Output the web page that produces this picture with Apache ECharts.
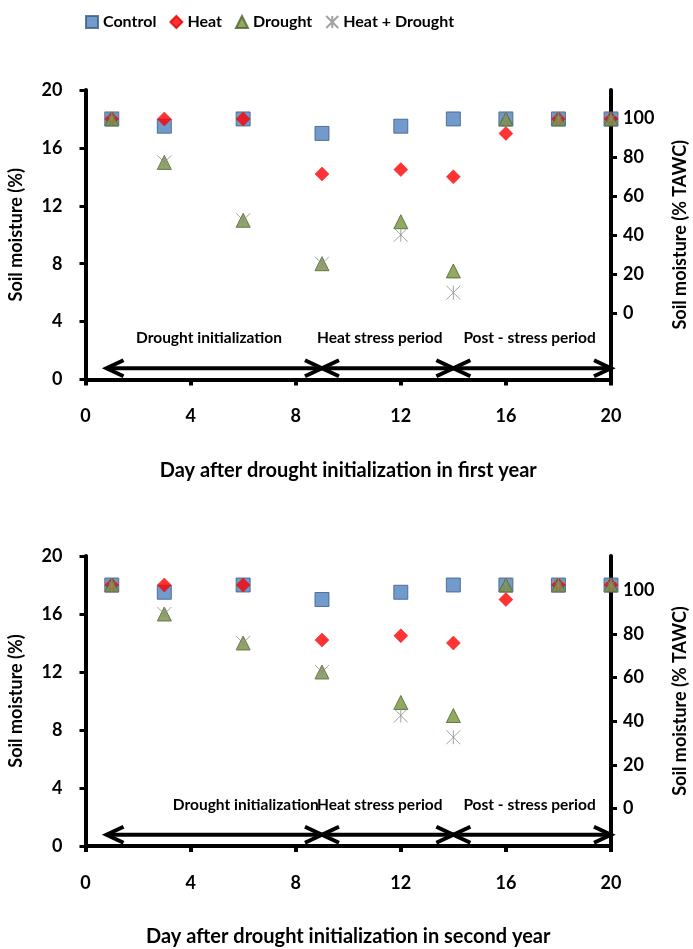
<!doctype html>
<html>

<head>
  <meta charset="utf-8">
  <script src="https://cdn.jsdelivr.net/npm/echarts@6/dist/echarts.min.js"></script>
</head>

<body>
  <style>
    html,
    body {
      width: 100%;
      height: 100%;
      margin: 0;
      background-color: #fff;
    }

    #main {
      width: 693px;
      height: 949px;
    }
  </style>
  <div id="main"></div>
  <script>
    // days of sampling
    var days = [1, 3, 6, 9, 12, 14, 16, 18, 20];
    // first year, soil moisture (%)
    var control1 = [18, 17.5, 18, 17, 17.5, 18, 18, 18, 18];
    var heat1 = [18, 18, 18, 14.2, 14.5, 14, 17, 18, 18];
    var drought1 = [18, 15, 11, 8, 10.9, 7.5, 18, 18, 18];
    var both1 = [18, 15, 11, 8, 10, 6, 18, 18, 18];
    // second year
    var control2 = [18, 17.5, 18, 17, 17.5, 18, 18, 18, 18];
    var heat2 = [18, 18, 18, 14.2, 14.5, 14, 17, 18, 18];
    var drought2 = [18, 16, 14, 12, 9.9, 9, 18, 18, 18];
    var both2 = [18, 16, 14, 12, 9, 7.5, 18, 18, 18];

    var seriesNames = ['Control', 'Heat', 'Drought', 'Heat + Drought'];
    var xTitles = ['Day after drought initialization in first year', 'Day after drought initialization in second year'];
    // right axis (% TAWC) range matching 0..20 % soil moisture
    var tawcRange1 = [-33.9, 114.4];
    var tawcRange2 = [-17.1, 115.7];
    var tawcTicks = [0, 20, 40, 60, 80, 100];

    var periodNames = ['Drought initialization', 'Heat stress period', 'Post - stress period'];
    var periodBounds = [[0.8, 9], [9, 14], [14, 20]];
    var periodLabelDay1 = [4.7, 11.2, 16.9];
    var periodLabelDay2 = [6.1, 11.2, 16.9];

    var ARROW_Y = 0.78, LABEL_Y = 2.85;
    var FONT = 'Lato';
    var star = 'path://M0,0L10,10M10,0L0,10M5,0L5,10';

    window.onload = function () {
      initChart();
    }

    function pairs(vals) {
      return days.map(function (d, i) { return [d, vals[i]]; });
    }

    function axisText(size) {
      return { color: '#000', fontFamily: FONT, fontWeight: 'bold', fontSize: size };
    }

    function markers(idx, sets) {
      var looks = [
        { symbol: 'rect', itemStyle: { color: '#4F81BD', borderColor: '#385D8A', borderWidth: 1 } },
        { symbol: 'diamond', itemStyle: { color: '#FF0000', borderColor: '#E00000', borderWidth: 0.5 } },
        { symbol: 'triangle', itemStyle: { color: '#77933C', borderColor: '#4F6228', borderWidth: 1 } },
        { symbol: star, itemStyle: { color: 'rgba(0,0,0,0)', borderColor: '#8c8c8c', borderWidth: 1 } }
      ];
      return sets.map(function (vals, k) {
        return {
          type: 'scatter',
          name: seriesNames[k],
          xAxisIndex: idx,
          yAxisIndex: idx * 2,
          symbol: looks[k].symbol,
          symbolSize: 14,
          itemStyle: looks[k].itemStyle,
          data: pairs(vals)
        };
      });
    }

    function periods(idx, labelDays) {
      return {
        type: 'custom',
        name: 'periods',
        xAxisIndex: idx,
        yAxisIndex: idx * 2,
        silent: true,
        data: periodBounds.map(function (b, i) { return [b[0], b[1], labelDays[i]]; }),
        renderItem: function (params, api) {
          var a = api.coord([api.value(0), ARROW_Y]);
          var b = api.coord([api.value(1), ARROW_Y]);
          var t = api.coord([api.value(2), LABEL_Y]);
          var h = 17, w = 8;
          var st = { stroke: '#000', lineWidth: 4, fill: null };
          return {
            type: 'group',
            children: [
              { type: 'line', shape: { x1: a[0], y1: a[1], x2: b[0], y2: b[1] }, style: st },
              { type: 'polyline', shape: { points: [[a[0] + h, a[1] - w], [a[0], a[1]], [a[0] + h, a[1] + w]] }, style: st },
              { type: 'polyline', shape: { points: [[b[0] - h, b[1] - w], [b[0], b[1]], [b[0] - h, b[1] + w]] }, style: st },
              {
                type: 'text', x: t[0], y: t[1],
                style: { text: periodNames[params.dataIndex], align: 'center', verticalAlign: 'middle', font: 'bold 15.5px ' + FONT, fill: '#000' }
              }
            ]
          };
        }
      };
    }

    function xAxis(idx) {
      return {
        type: 'value', gridIndex: idx, min: 0, max: 20, interval: 4,
        name: xTitles[idx], nameLocation: 'middle', nameGap: 81,
        nameTextStyle: axisText(20),
        axisLine: { onZero: false, lineStyle: { color: '#000', width: 4 } },
        axisTick: { length: 6, lineStyle: { color: '#000', width: 4 } },
        axisLabel: Object.assign({ margin: 28 }, axisText(18)),
        splitLine: { show: false }
      };
    }

    function leftAxis(idx) {
      return {
        type: 'value', gridIndex: idx, position: 'left', min: 0, max: 20, interval: 4,
        name: 'Soil moisture (%)', nameLocation: 'middle', nameGap: 60, nameRotate: 90,
        nameTextStyle: axisText(18),
        axisLine: { show: true, onZero: false, lineStyle: { color: '#000', width: 4 } },
        axisTick: { show: true, length: 6, lineStyle: { color: '#000', width: 3 } },
        axisLabel: Object.assign({ margin: 23 }, axisText(18)),
        splitLine: { show: false }
      };
    }

    function rightAxis(idx, range) {
      return {
        type: 'value', gridIndex: idx, position: 'right', min: range[0], max: range[1],
        name: 'Soil moisture (% TAWC)', nameLocation: 'middle', nameGap: 60, nameRotate: 90,
        nameTextStyle: axisText(18),
        axisLine: { show: true, onZero: false, lineStyle: { color: '#000', width: 4 } },
        axisTick: { show: true, length: 6, customValues: tawcTicks, lineStyle: { color: '#000', width: 3 } },
        axisLabel: Object.assign({ margin: 12, customValues: tawcTicks }, axisText(18)),
        splitLine: { show: false }
      };
    }

    //初始化图表
    function initChart() {
      var chart = echarts.init(document.getElementById('main'));
      var option = {
        animation: false,
        legend: {
          data: seriesNames,
          left: 80, top: 9,
          itemWidth: 12, itemHeight: 12, itemGap: 13,
          textStyle: { color: '#000', fontFamily: FONT, fontWeight: 'bold', fontSize: 16 }
        },
        grid: [
          { left: 85.5, width: 525.5, top: 90, height: 289.5, outerBoundsMode: 'none' },
          { left: 85.5, width: 525.5, top: 556, height: 290, outerBoundsMode: 'none' }
        ],
        xAxis: [xAxis(0), xAxis(1)],
        yAxis: [leftAxis(0), rightAxis(0, tawcRange1), leftAxis(1), rightAxis(1, tawcRange2)],
        series: [].concat(
          markers(0, [control1, heat1, drought1, both1]),
          markers(1, [control2, heat2, drought2, both2]),
          [periods(0, periodLabelDay1), periods(1, periodLabelDay2)]
        )
      };
      chart.setOption(option);
    }
  </script>
</body>

</html>
